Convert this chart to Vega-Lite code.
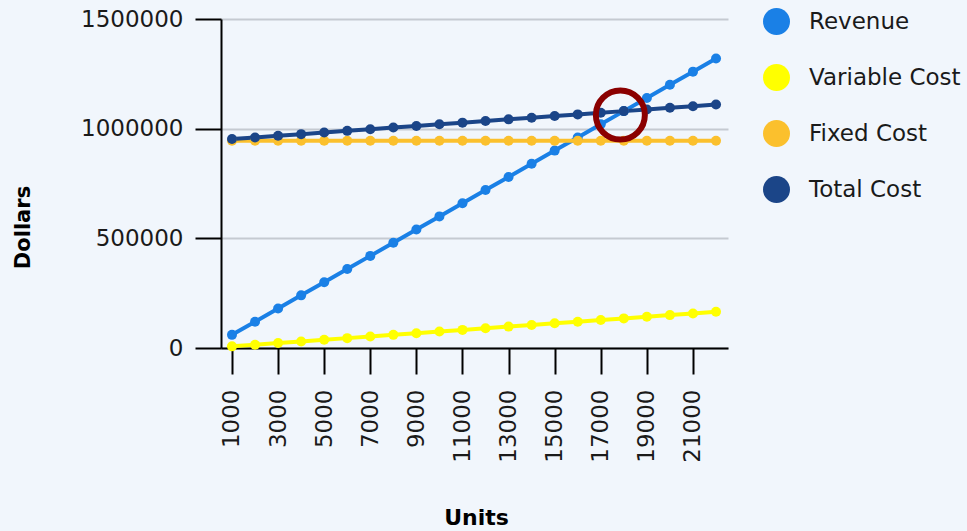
{
  "$schema": "https://vega.github.io/schema/vega-lite/v6.json",
  "width": 507,
  "height": 329,
  "autosize": "none",
  "padding": {"left": 221, "top": 19, "right": 239, "bottom": 183},
  "background": "#f1f6fc",
  "config": {"view": {"stroke": null}, "font": "DejaVu Sans"},
  "datasets": {
    "costs": [
      {"units": 1000, "Revenue": 60000, "Variable Cost": 7500, "Fixed Cost": 945000, "Total Cost": 952500},
      {"units": 2000, "Revenue": 120000, "Variable Cost": 15000, "Fixed Cost": 945000, "Total Cost": 960000},
      {"units": 3000, "Revenue": 180000, "Variable Cost": 22500, "Fixed Cost": 945000, "Total Cost": 967500},
      {"units": 4000, "Revenue": 240000, "Variable Cost": 30000, "Fixed Cost": 945000, "Total Cost": 975000},
      {"units": 5000, "Revenue": 300000, "Variable Cost": 37500, "Fixed Cost": 945000, "Total Cost": 982500},
      {"units": 6000, "Revenue": 360000, "Variable Cost": 45000, "Fixed Cost": 945000, "Total Cost": 990000},
      {"units": 7000, "Revenue": 420000, "Variable Cost": 52500, "Fixed Cost": 945000, "Total Cost": 997500},
      {"units": 8000, "Revenue": 480000, "Variable Cost": 60000, "Fixed Cost": 945000, "Total Cost": 1005000},
      {"units": 9000, "Revenue": 540000, "Variable Cost": 67500, "Fixed Cost": 945000, "Total Cost": 1012500},
      {"units": 10000, "Revenue": 600000, "Variable Cost": 75000, "Fixed Cost": 945000, "Total Cost": 1020000},
      {"units": 11000, "Revenue": 660000, "Variable Cost": 82500, "Fixed Cost": 945000, "Total Cost": 1027500},
      {"units": 12000, "Revenue": 720000, "Variable Cost": 90000, "Fixed Cost": 945000, "Total Cost": 1035000},
      {"units": 13000, "Revenue": 780000, "Variable Cost": 97500, "Fixed Cost": 945000, "Total Cost": 1042500},
      {"units": 14000, "Revenue": 840000, "Variable Cost": 105000, "Fixed Cost": 945000, "Total Cost": 1050000},
      {"units": 15000, "Revenue": 900000, "Variable Cost": 112500, "Fixed Cost": 945000, "Total Cost": 1057500},
      {"units": 16000, "Revenue": 960000, "Variable Cost": 120000, "Fixed Cost": 945000, "Total Cost": 1065000},
      {"units": 17000, "Revenue": 1020000, "Variable Cost": 127500, "Fixed Cost": 945000, "Total Cost": 1072500},
      {"units": 18000, "Revenue": 1080000, "Variable Cost": 135000, "Fixed Cost": 945000, "Total Cost": 1080000},
      {"units": 19000, "Revenue": 1140000, "Variable Cost": 142500, "Fixed Cost": 945000, "Total Cost": 1087500},
      {"units": 20000, "Revenue": 1200000, "Variable Cost": 150000, "Fixed Cost": 945000, "Total Cost": 1095000},
      {"units": 21000, "Revenue": 1260000, "Variable Cost": 157500, "Fixed Cost": 945000, "Total Cost": 1102500},
      {"units": 22000, "Revenue": 1320000, "Variable Cost": 165000, "Fixed Cost": 945000, "Total Cost": 1110000}
    ],
    "breakEven": [{"units": 17850, "dollars": 1062000}]
  },
  "layer": [
    {
      "data": {"name": "costs"},
      "transform": [{"fold": ["Revenue", "Variable Cost", "Fixed Cost", "Total Cost"], "as": ["series", "dollars"]}],
      "mark": {"type": "line", "strokeWidth": 4, "point": {"size": 100, "filled": true, "opacity": 1}},
      "encoding": {
        "x": {
          "field": "units", "type": "quantitative",
          "scale": {"domain": [523, 22520], "nice": false, "zero": false},
          "axis": {
            "values": [1000, 2000, 3000, 4000, 5000, 6000, 7000, 8000, 9000, 10000, 11000, 12000, 13000, 14000, 15000, 16000, 17000, 18000, 19000, 20000, 21000, 22000],
            "format": "d",
            "labelExpr": "datum.value % 2000 == 1000 ? datum.label : ''",
            "labelAngle": 270, "labelAlign": "right", "labelBaseline": "middle",
            "labelFontSize": 23, "labelColor": "#1a1a1a", "labelPadding": 15,
            "labelOverlap": false, "labelFlush": false,
            "tickSize": 26, "tickWidth": 2, "tickColor": "#000000",
            "domainColor": "#000000", "domainWidth": 2, "grid": false,
            "title": "Units", "titleFontSize": 22, "titleFontWeight": "bold", "titleColor": "#000000",
            "titleX": 255, "titleY": 169, "titleBaseline": "middle", "titleAlign": "center"
          }
        },
        "y": {
          "field": "dollars", "type": "quantitative",
          "scale": {"domain": [0, 1500000], "nice": false},
          "axis": {
            "values": [0, 500000, 1000000, 1500000],
            "format": "d",
            "labelFontSize": 23, "labelColor": "#1a1a1a", "labelPadding": 12,
            "labelOverlap": false, "labelFlush": false,
            "tickSize": 26, "tickWidth": 2, "tickColor": "#000000",
            "domainColor": "#000000", "domainWidth": 2,
            "grid": true, "gridColor": "#c5cad1", "gridWidth": 2,
            "title": "Dollars", "titleFontSize": 21, "titleFontWeight": "bold", "titleColor": "#000000",
            "titleAngle": 270, "titleX": -198, "titleY": 208, "titleBaseline": "middle", "titleAlign": "center"
          }
        },
        "color": {
          "field": "series", "type": "nominal",
          "scale": {"domain": ["Revenue", "Variable Cost", "Fixed Cost", "Total Cost"], "range": ["#1a80e6", "#ffff00", "#fbc02d", "#1b4588"]},
          "legend": {
            "orient": "none", "legendX": 542, "legendY": -11,
            "title": null, "symbolType": "circle", "symbolSize": 729,
            "labelFontSize": 23, "labelColor": "#1a1a1a", "labelOffset": 19, "rowPadding": 29,
            "labelLimit": 300,
            "encode": {"symbols": {"update": {"fill": {"scale": "color", "field": "value"}, "strokeWidth": {"value": 0}, "opacity": {"value": 1}}}}
          }
        }
      }
    },
    {
      "data": {"name": "breakEven"},
      "mark": {"type": "point", "shape": "circle", "filled": false, "stroke": "#8b0000", "strokeWidth": 6, "size": 2401, "opacity": 1},
      "encoding": {
        "x": {"field": "units", "type": "quantitative"},
        "y": {"field": "dollars", "type": "quantitative"}
      }
    }
  ]
}
